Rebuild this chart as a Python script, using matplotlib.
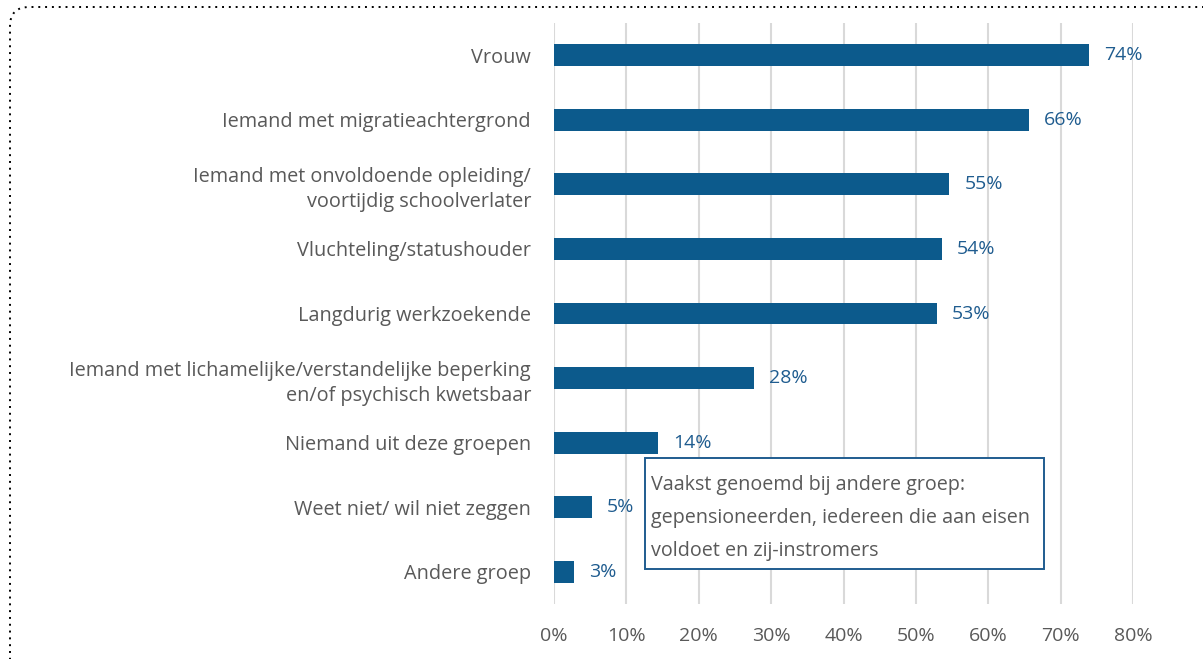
import matplotlib
matplotlib.use("Agg")
import matplotlib.pyplot as plt
from matplotlib.patches import FancyBboxPatch, Rectangle
from matplotlib.ticker import PercentFormatter

categories = [
    "Vrouw",
    "Iemand met migratieachtergrond",
    "Iemand met onvoldoende opleiding/\nvoortijdig schoolverlater",
    "Vluchteling/statushouder",
    "Langdurig werkzoekende",
    "Iemand met lichamelijke/verstandelijke beperking\nen/of psychisch kwetsbaar",
    "Niemand uit deze groepen",
    "Weet niet/ wil niet zeggen",
    "Andere groep",
]
values = [73.9, 65.6, 54.6, 53.6, 52.9, 27.6, 14.4, 5.2, 2.7]
xticks = [0, 10, 20, 30, 40, 50, 60, 70, 80]
note_text = ("Vaakst genoemd bij andere groep:\n"
             "gepensioneerden, iedereen die aan eisen\n"
             "voldoet en zij-instromers")

plt.rcParams['font.family'] = ['Open Sans', 'DejaVu Sans']

W, H = 1203, 659
fig = plt.figure(figsize=(W / 100, H / 100), dpi=100)

ax_left, ax_right = 554, 1133
ax_top, ax_bottom = 23, 604
ax = fig.add_axes([ax_left / W, 1 - ax_bottom / H,
                   (ax_right - ax_left) / W, (ax_bottom - ax_top) / H])

bar_color = "#0C5A8C"
label_color = "#1F5C8F"
grey = "#595959"

y = list(range(len(categories)))
ax.barh(y, values, height=0.34, color=bar_color, zorder=3)
ax.set_ylim(len(categories) - 0.5, -0.5)
ax.set_xlim(0, 80)
ax.set_xticks(xticks)
ax.xaxis.set_major_formatter(PercentFormatter(decimals=0))
ax.set_yticks(y)
ax.set_yticklabels(categories, fontsize=14.3, color=grey, ha="right",
                   linespacing=1.35)
ax.tick_params(axis="y", length=0, pad=16.5)
ax.tick_params(axis="x", length=0, pad=16.5, labelsize=14, labelcolor=grey)
ax.grid(axis="x", color="#D9D9D9", linewidth=1.5, zorder=0)
for s in ax.spines.values():
    s.set_visible(False)

for yi, v in zip(y, values):
    ax.text(v + 2.1, yi, f"{v:.0f}%", va="center", ha="left",
            fontsize=14, color=label_color, clip_on=False)

# annotation box
bx0, by0, bx1, by1 = 645, 458, 1044, 569
fig.patches.append(Rectangle((bx0 / W, 1 - by1 / H), (bx1 - bx0) / W,
                             (by1 - by0) / H, transform=fig.transFigure,
                             facecolor="white", edgecolor=label_color,
                             linewidth=1.4, zorder=5))
fig.text((bx0 + 6) / W, 1 - (by0 + 60) / H, note_text, ha="left",
         va="center", fontsize=14.2, color=grey, linespacing=1.85, zorder=6)

# dotted rounded border
fig.patches.append(FancyBboxPatch((10 / W, -40 / H), 1240 / W, (H - 7 + 40) / H,
                                  boxstyle="round,pad=0,rounding_size=0.016",
                                  transform=fig.transFigure, facecolor="none",
                                  edgecolor="black", linewidth=1.4,
                                  linestyle=(0, (1, 2.5)), zorder=0,
                                  mutation_aspect=W / H))

fig.savefig("out.png", dpi=100)
